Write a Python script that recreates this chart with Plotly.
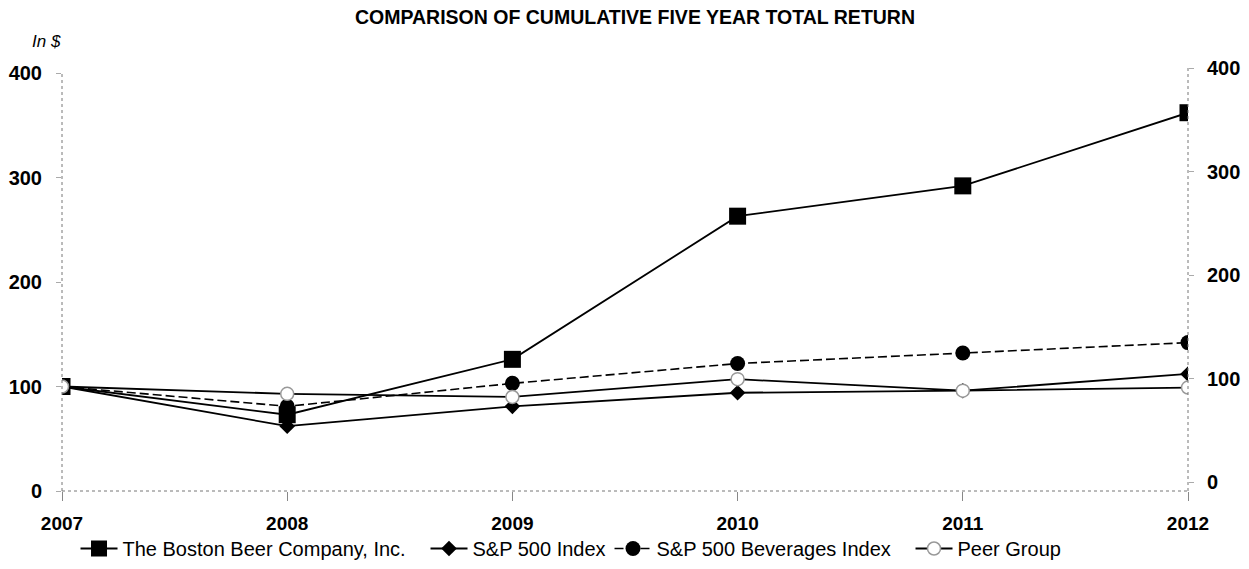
import plotly.graph_objects as go

years = [2007, 2008, 2009, 2010, 2011, 2012]
boston = [100, 73, 126, 263, 292, 362]
sp500 = [100, 62, 81, 94, 96, 112]
beverages = [100, 81, 103, 122, 132, 142]
peer = [100, 93, 90, 107, 96, 99]
ytick_vals = [0, 100, 200, 300, 400]

FONT = "Liberation Sans, Arial, Helvetica, sans-serif"

fig = go.Figure()
fig.add_trace(go.Scatter(
    x=years, y=boston, name="The Boston Beer Company, Inc.", mode="lines+markers",
    line=dict(color="black", width=1.8),
    marker=dict(symbol="square", size=17, color="black"),
    legendwidth=298,
))
fig.add_trace(go.Scatter(
    x=years, y=sp500, name="S&P 500 Index", mode="lines+markers",
    line=dict(color="black", width=1.8),
    marker=dict(symbol="diamond", size=12, color="black"),
    legendwidth=132,
))
fig.add_trace(go.Scatter(
    x=years, y=beverages, name="S&P 500 Beverages Index", mode="lines+markers",
    line=dict(color="black", width=1.6, dash="9px,4px"),
    marker=dict(symbol="circle", size=15, color="black"),
    legendwidth=249,
))
fig.add_trace(go.Scatter(
    x=years, y=peer, name="Peer Group", mode="lines+markers",
    line=dict(color="black", width=1.8),
    marker=dict(symbol="circle", size=13, color="white", line=dict(color="#999", width=1.5)),
    legendwidth=110,
))
# invisible trace to activate the right-hand axis
fig.add_trace(go.Scatter(x=years, y=boston, yaxis="y2", mode="none",
                         showlegend=False, hoverinfo="skip"))

fig.update_layout(
    width=1249, height=569,
    margin=dict(l=62, r=61, t=68, b=78, autoexpand=False),
    paper_bgcolor="white", plot_bgcolor="white",
    font=dict(family=FONT, color="black", size=20),
    title=dict(text="<b>COMPARISON OF CUMULATIVE FIVE YEAR TOTAL RETURN</b>",
               x=635 / 1249, xref="container", xanchor="center",
               y=1 - 17 / 569, yref="container", yanchor="middle",
               font=dict(size=19.5, family=FONT)),
    showlegend=True,
    legend=dict(orientation="h", x=0.012, y=-77 / 423, xanchor="left", yanchor="bottom",
                font=dict(size=20, family=FONT),
                itemwidth=37, bgcolor="rgba(0,0,0,0)"),
    xaxis=dict(range=[2007, 2012], tickvals=years, ticktext=[f"<b>{y}</b>" for y in years],
               showgrid=False, zeroline=False, showline=False,
               ticks="outside", ticklen=9, tickcolor="#888", tickwidth=1,
               ticklabelstandoff=6, tickfont=dict(size=19)),
    yaxis=dict(range=[0, 404.8], tickvals=ytick_vals, ticktext=[f"<b>{v}</b>" for v in ytick_vals],
               showgrid=False, zeroline=False, showline=False,
               ticks="outside", ticklen=5, tickcolor="#aaa",
               ticklabelstandoff=10, tickfont=dict(size=20)),
    yaxis2=dict(range=[-8.7, 400], overlaying="y", side="right",
                tickvals=ytick_vals, ticktext=[f"<b>{v}</b>" for v in ytick_vals],
                showgrid=False, zeroline=False, showline=False,
                ticks="outside", ticklen=5, tickcolor="#aaa",
                ticklabelstandoff=9, tickfont=dict(size=20)),
    shapes=[
        dict(type="line", xref="paper", yref="paper", x0=0, x1=1, y0=0, y1=0,
             line=dict(color="#777", width=1, dash="dot")),
        dict(type="line", xref="paper", yref="y", x0=0, x1=0, y0=0, y1=400,
             line=dict(color="#777", width=1, dash="dot")),
        dict(type="line", xref="paper", yref="paper", x0=1, x1=1, y0=0, y1=1,
             line=dict(color="#777", width=1, dash="dot")),
    ],
    annotations=[
        dict(text="<i>In $</i>", xref="paper", yref="paper", x=-0.0142, y=1.0638,
             xanchor="center", yanchor="middle", showarrow=False,
             font=dict(size=17, family=FONT)),
    ],
)

fig.write_html("out.html", config={"displayModeBar": False},
               post_script="document.body.style.margin='0';document.body.style.overflow='hidden';")
